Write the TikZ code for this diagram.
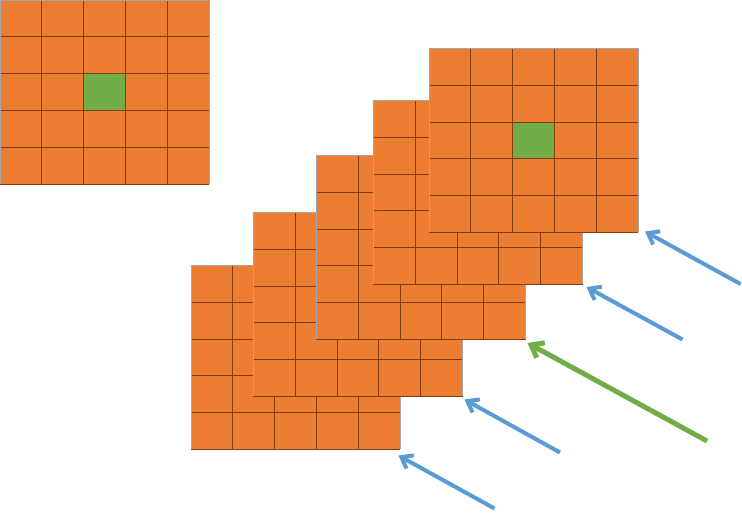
\documentclass[tikz,border=0pt]{standalone}
\usetikzlibrary{arrows.meta}
\definecolor{cellorange}{HTML}{ED7D31}
\definecolor{cellgreen}{HTML}{70AD47}
\definecolor{gridbrown}{HTML}{843C0C}
\definecolor{arrowblue}{HTML}{5B9BD5}
\definecolor{edgegray}{HTML}{A6A6A6}
\tikzset{
  gridline/.style={draw=gridbrown, line width=0.8pt},
  cellgrid/.pic={
    \fill[cellorange] (0,0) rectangle (209.3,184);
    \foreach \i in {1,2,3,4} {
      \draw[gridline] (\i*41.86,0) -- (\i*41.86,184);
      \draw[gridline] (0,\i*36.8) -- (209.3,\i*36.8);
    }
    \draw[draw=edgegray, line width=0.8pt] (0,184) -- (0,0) -- (209.3,0) -- (209.3,184);
    \draw[gridline] (0,184) -- (209.3,184);
  },
  greencell/.pic={
    \fill[cellgreen] (2*41.86,2*36.8) rectangle (3*41.86,3*36.8);
    \draw[gridline] (2*41.86,2*36.8) rectangle (3*41.86,3*36.8);
  },
  bluearrow/.style={draw=arrowblue, line width=4pt, -{Straight Barb[length=10pt,width=15pt]}},
  greenarrow/.style={draw=cellgreen, line width=5pt, -{Straight Barb[length=11pt,width=17pt]}}
}
\begin{document}
\begin{tikzpicture}[x=1pt,y=-1pt]
\useasboundingbox (0,0) rectangle (742,512);
% single grid
\coordinate (g0) at (0,0);
\pic at (g0) {cellgrid};
\pic at (g0) {greencell};
% stacked grids, back-to-front painting order (front grid first)
\coordinate (g1) at (191,265.3);
\coordinate (g2) at (253.3,212.3);
\coordinate (g3) at (316.3,155.3);
\coordinate (g4) at (373.3,100.3);
\coordinate (g5) at (429,48.3);
\pic at (g1) {cellgrid};
\pic at (g2) {cellgrid};
\pic at (g3) {cellgrid};
\pic at (g4) {cellgrid};
\pic at (g5) {cellgrid};
\pic at (g5) {greencell};
% arrows
\coordinate (t1) at (494.5,508.5);
\coordinate (h1) at (398.5,455.5);
\coordinate (t2) at (560,452.5);
\coordinate (h2) at (464.5,399.5);
\coordinate (t3) at (707,441);
\coordinate (h3) at (527.5,343);
\coordinate (t4) at (682.5,339.5);
\coordinate (h4) at (586.5,287);
\coordinate (t5) at (740.5,284);
\coordinate (h5) at (645,231.5);
\draw[bluearrow] (t1) -- (h1);
\draw[bluearrow] (t2) -- (h2);
\draw[greenarrow] (t3) -- (h3);
\draw[bluearrow] (t4) -- (h4);
\draw[bluearrow] (t5) -- (h5);
\end{tikzpicture}
\end{document}
